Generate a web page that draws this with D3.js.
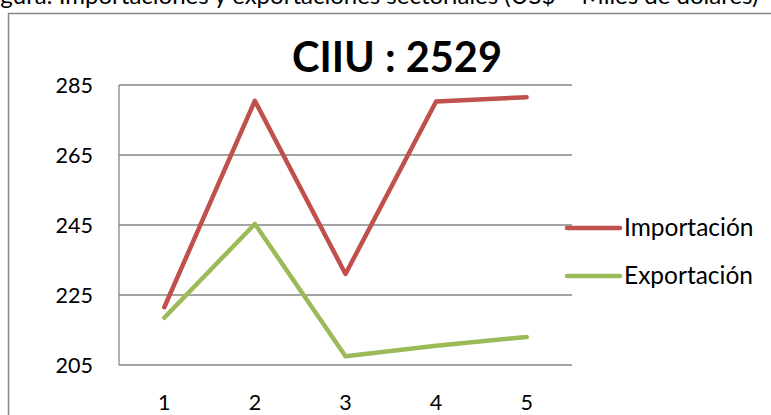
<!DOCTYPE html>
<html lang="es">
<head>
<meta charset="UTF-8">
<title>CIIU : 2529</title>
<script src="https://d3js.org/d3.v7.min.js"></script>
<style>
  body { margin: 0; background: #fff; font-family: Lato, "Open Sans", sans-serif; }
  svg { display: block; }
  .grid line { stroke: #868686; stroke-width: 1.3px; }
  .axis text { font-size: 21.5px; fill: #000; }
</style>
</head>
<body>
<svg width="771" height="415"></svg>
<script>
// data
const categories = ["1", "2", "3", "4", "5"];
const importacion = [221.5, 280.5, 231, 280.3, 281.5];
const exportacion = [218.5, 245.3, 207.5, 210.5, 213];
const yTicks = [205, 225, 245, 265, 285];
const seriesNames = ["Importación", "Exportación"];
const seriesColors = ["#C0504D", "#9BBB59"];

const svg = d3.select("svg");
const W = 771, H = 415;
const plot = { left: 119, right: 572, top: 85, bottom: 365 };

// caption cut off by the top edge, and the outer frame
svg.append("text")
  .attr("x", -19).attr("y", 3.5)
  .attr("font-size", 24)
  .text("Figura: Importaciones y exportaciones sectoriales (US$ – Miles de dólares)");

svg.append("path")
  .attr("d", `M8.5,${H} V13.5 H${W}`)
  .attr("fill", "none")
  .attr("stroke", "#868686")
  .attr("stroke-width", 1.5);

const x = d3.scaleBand().domain(categories).range([plot.left, plot.right]);
const y = d3.scaleLinear().domain([205, 285]).range([plot.bottom, plot.top]);

// gridlines
svg.append("g").attr("class", "grid")
  .selectAll("line").data(yTicks).join("line")
  .attr("x1", plot.left).attr("x2", plot.right)
  .attr("y1", d => y(d)).attr("y2", d => y(d));

svg.append("line")
  .attr("x1", plot.left).attr("x2", plot.left)
  .attr("y1", plot.top).attr("y2", plot.bottom)
  .attr("stroke", "#868686").attr("stroke-width", 1.3);

// y axis labels
svg.append("g").attr("class", "axis")
  .selectAll("text").data(yTicks).join("text")
  .attr("x", 93).attr("y", d => y(d) + 8)
  .attr("text-anchor", "end")
  .text(d => d);

// x axis labels
svg.append("g").attr("class", "axis")
  .selectAll("text").data(categories).join("text")
  .attr("x", d => x(d) + x.bandwidth() / 2).attr("y", 410)
  .attr("text-anchor", "middle")
  .text(d => d);

// lines
const line = d3.line()
  .x((d, i) => x(categories[i]) + x.bandwidth() / 2)
  .y(d => y(d));

[importacion, exportacion].forEach((vals, k) => {
  svg.append("path")
    .datum(vals)
    .attr("d", line)
    .attr("fill", "none")
    .attr("stroke", seriesColors[k])
    .attr("stroke-width", 4.5)
    .attr("stroke-linejoin", "round")
    .attr("stroke-linecap", "round");
});

// title
svg.append("text")
  .attr("x", 397).attr("y", 72)
  .attr("text-anchor", "middle")
  .attr("font-size", 41.5)
  .attr("font-weight", "bold")
  .text("CIIU : 2529");

// legend
const legend = svg.append("g");
seriesNames.forEach((name, i) => {
  const ly = 228 + i * 48;
  legend.append("line")
    .attr("x1", 567).attr("x2", 620)
    .attr("y1", ly).attr("y2", ly)
    .attr("stroke", seriesColors[i])
    .attr("stroke-width", 4.5)
    .attr("stroke-linecap", "round");
  legend.append("text")
    .attr("x", 624).attr("y", ly + 8)
    .attr("font-size", 24.5)
    .text(name);
});
</script>
</body>
</html>
